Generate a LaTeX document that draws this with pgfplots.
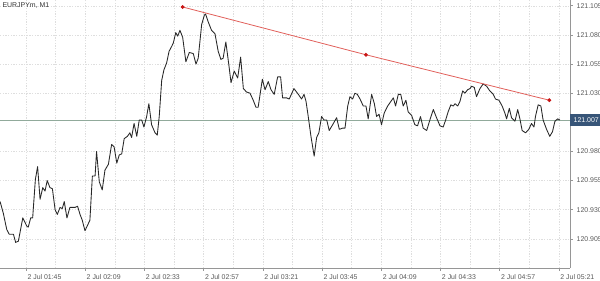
\documentclass[border=0pt]{standalone}
\usepackage{fontspec}
\setmainfont{Liberation Sans}
\usepackage{pgfplots}
\usepackage{pgfplotstable}
\pgfplotsset{compat=1.18}
\definecolor{gridc}{RGB}{222,222,222}
\definecolor{axc}{RGB}{150,150,150}
\definecolor{hlc}{RGB}{145,170,155}
\definecolor{trendc}{RGB}{225,95,90}
\definecolor{dotc}{RGB}{200,20,20}
\definecolor{boxc}{RGB}{55,85,120}
\definecolor{pricec}{RGB}{40,40,40}

% minutes since 00:00 (2 Jul), close price
\pgfplotstableread{
t p
94.5 120.937
95.8 120.927
97.2 120.913
98.2 120.909
99.9 120.909
100.8 120.902
101.9 120.903
103.7 120.923
105.3 120.916
105.9 120.915
106.9 120.923
107.7 120.923
108.8 120.956
109.7 120.967
110.7 120.939
111.8 120.949
112.7 120.946
113.6 120.955
114.7 120.949
115.7 120.948
116.8 120.930
117.7 120.926
118.8 120.932
119.7 120.931
120.5 120.937
121.6 120.923
122.8 120.932
124.9 120.932
125.9 120.933
126.9 120.926
127.8 120.921
128.9 120.912
129.8 120.916
130.9 120.921
131.9 120.959
133.0 120.959
133.6 120.980
134.7 120.954
135.9 120.947
137.0 120.964
138.4 120.969
139.7 120.986
140.7 120.984
141.8 120.970
142.8 120.977
143.8 120.978
144.8 120.991
146.1 120.993
147.1 120.996
147.8 120.992
148.8 121.004
149.9 120.993
150.9 121.007
151.9 121.007
152.8 121.001
153.9 121.010
154.8 121.021
155.9 121.003
157.3 120.996
158.2 120.994
159.0 121.010
160.0 121.041
160.9 121.050
162.0 121.056
163.0 121.066
164.0 121.070
164.7 121.073
165.7 121.082
166.5 121.079
167.4 121.084
168.5 121.078
169.8 121.057
171.2 121.065
172.8 121.064
173.9 121.055
174.8 121.060
176.2 121.089
177.3 121.097
177.8 121.098
178.9 121.091
180.2 121.084
181.6 121.081
182.9 121.066
184.0 121.059
184.9 121.060
186.0 121.074
187.3 121.053
188.1 121.039
189.4 121.049
190.8 121.043
192.0 121.061
193.1 121.034
194.4 121.031
195.8 121.030
197.1 121.024
198.2 121.018
199.1 121.018
200.8 121.042
201.9 121.033
203.2 121.040
204.3 121.033
205.6 121.029
207.0 121.044
208.2 121.044
209.0 121.026
210.6 121.026
211.7 121.025
213.6 121.034
215.4 121.029
216.7 121.025
217.7 121.029
218.5 121.023
219.4 121.010
220.5 120.993
221.8 120.976
222.8 120.992
223.7 120.996
224.8 121.010
225.8 121.007
226.9 121.007
227.9 120.998
229.3 121.003
230.9 121.009
232.0 120.999
233.3 121.000
234.3 121.000
235.4 121.019
236.3 121.027
237.4 121.025
238.3 121.030
239.3 121.029
240.4 121.025
241.7 121.019
242.8 121.019
243.7 121.008
245.1 121.029
246.2 121.021
247.1 121.010
248.1 121.012
249.1 121.003
250.2 121.013
251.6 121.019
252.9 121.023
253.9 121.026
254.8 121.019
255.9 121.029
256.9 121.029
257.9 121.019
259.0 121.024
259.9 121.014
261.3 121.011
262.6 121.003
263.7 121.002
264.9 121.010
266.0 121.000
267.4 120.998
268.7 121.007
270.1 121.016
271.4 121.009
272.8 121.002
274.1 121.001
275.1 121.007
276.1 121.014
277.2 121.020
278.2 121.019
278.9 121.021
280.0 121.019
280.9 121.023
282.0 121.032
282.9 121.030
284.0 121.033
285.0 121.034
285.6 121.036
286.7 121.035
287.6 121.027
289.0 121.034
290.3 121.038
291.7 121.036
293.0 121.032
294.4 121.029
295.3 121.025
296.7 121.024
298.0 121.019
299.1 121.013
299.8 121.008
300.9 121.017
301.8 121.009
303.2 121.006
304.3 121.016
305.2 121.008
306.1 120.998
307.5 120.996
308.8 120.999
309.9 121.004
310.9 121.001
311.5 121.010
312.6 121.020
313.7 121.019
314.6 121.007
316.0 120.999
317.3 120.993
318.4 120.997
319.4 121.006
320.5 121.008
321.4 121.007
}\pricedata

\pgfplotstableread{
t p
168.5 121.104
242.8 121.063
317.1 121.024
}\trenddata

\begin{document}
\begin{tikzpicture}
\begin{axis}[
  name=ax,
  scale only axis,
  width=427.5pt, height=201pt,
  xmin=94.46, xmax=325.5,
  ymin=120.880, ymax=121.110,
  clip=false,
  axis x line*=bottom,
  axis y line*=right,
  axis line style={draw=axc, line width=0.6pt, -},
  xtick={105,129,153,177,201,225,249,273,297,321},
  xticklabels={2 Jul 01:45,2 Jul 02:09,2 Jul 02:33,2 Jul 02:57,2 Jul 03:21,2 Jul 03:45,2 Jul 04:09,2 Jul 04:33,2 Jul 04:57,2 Jul 05:21},
  minor xtick={117,141,165,189,213,237,261,285,309},
  ytick={120.905,120.930,120.955,120.980,121.030,121.055,121.080,121.105},
  grid=both,
  major grid style={gridc, dash pattern=on 1pt off 1pt, line width=0.4pt},
  minor grid style={gridc, dash pattern=on 1pt off 1pt, line width=0.4pt},
  tick align=outside,
  major tick length=2pt,
  minor tick length=0pt,
  tick style={axc, line width=0.5pt},
  tick label style={font=\fontsize{5.2}{6}\selectfont, text=black!65},
  xticklabel style={anchor=north west, xshift=-2.4pt, yshift=0.3pt},
  yticklabel style={anchor=west, xshift=-0.5pt},
  /pgf/number format/.cd, fixed, fixed zerofill, precision=3, 1000 sep={}, assume math mode=true,
]
\addplot[color=hlc, line width=0.6pt] coordinates {(94.46,121.007) (325.5,121.007)};
\addplot[color=pricec, line width=0.65pt, line join=round] table[x=t, y=p] {\pricedata};
\addplot[color=trendc, line width=0.6pt, mark=*, mark size=1.1pt, mark options={fill=dotc, draw=dotc}] table[x=t, y=p] {\trenddata};
\node[anchor=north west, inner sep=0pt, font=\fontsize{5.2}{6}\selectfont, text=black!80] at (rel axis cs:0.004,0.992) {EURJPYm, M1};
\node[anchor=west, fill=boxc, text=white, inner xsep=2.6pt, inner ysep=0pt, minimum height=8.5pt, font=\fontsize{5.2}{6}\selectfont] at (axis cs:325.5,121.007) {121.007};
\end{axis}
\pgfresetboundingbox
\path ([yshift=-9.75pt]ax.south west) rectangle ([xshift=22.5pt]ax.north east);
\end{tikzpicture}
\end{document}
